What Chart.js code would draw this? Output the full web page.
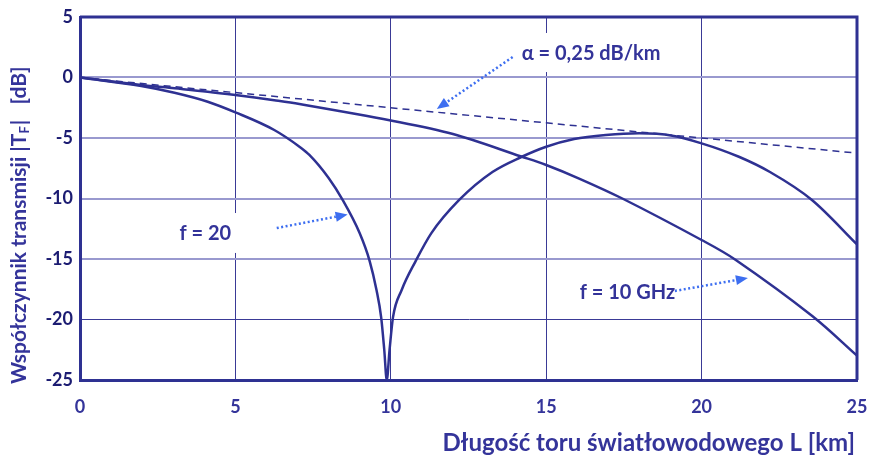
<!DOCTYPE html>
<html>
<head>
<meta charset="utf-8">
<script src="https://cdn.jsdelivr.net/npm/chart.js@4.4.1/dist/chart.umd.min.js"></script>
<style>
    html, body { margin: 0; padding: 0; background: #fff; }
    #wrap { width: 869px; height: 455px; }
</style>
</head>
<body>
<div id="wrap"><canvas id="chart" width="869" height="455"></canvas></div>
<script>
// L [km] i |T_F| [dB]
const lenF10 = [0, 1.97, 3.04, 4.11, 5, 6.25, 7.06, 10, 12, 14.2, 15, 16.06, 17.45, 20, 21.1, 23.56, 25];
const dbF10  = [0, -0.62, -0.89, -1.17, -1.45, -1.88, -2.19, -3.55, -4.67, -6.53, -7.23, -8.35, -10.0, -13.43, -15.08, -19.71, -22.99];

const lenF20 = [0, 1.97, 3.04, 4.11, 5, 6.25, 7.06, 7.38, 8, 8.45, 9.0, 9.32, 9.54, 9.69, 9.79, 9.87,
                9.96, 10.07, 10.35, 10.8, 11.3, 12.2, 13.27, 14.2, 15, 15.9, 16.92, 17.99, 19.06, 20, 21.2, 22.2, 23.55, 25];
const dbF20  = [0, -0.70, -1.26, -2.00, -2.88, -4.34, -5.72, -6.40, -8.31, -10.12, -12.88, -15.17, -17.56, -19.82, -22.52, -25,
                -22.52, -19.82, -17.56, -15.17, -12.88, -10.12, -7.81, -6.57, -5.72, -5.08, -4.75, -4.61, -4.81, -5.44, -6.55, -7.81, -10.12, -13.79];

const lenAlpha = [0, 25];
const dbAlpha  = [0, -6.25];

const xTicks = [0, 5, 10, 15, 20, 25];
const yTicks = [5, 0, -5, -10, -15, -20, -25];

// Opisy i strzałki (w jednostkach osi)
const labelTexts = ['α = 0,25 dB/km', 'f = 20', 'f = 10 GHz'];
const labelPos = [[14.21, 2.0], [3.2, -12.93], [16.08, -17.8]];
const arrowFrom = [[13.92, 1.69], [6.33, -12.44], [19.14, -17.64]];
const arrowTo   = [[11.48, -2.6], [8.61, -11.32], [21.49, -16.57]];
// Białe tło pod opisami (przerywa linie siatki)
const boxFrom = [[13.89, 3.68], [2.89, -11.2]];
const boxTo   = [[19.04, 0.45], [5.3, -14.5]];

const NAVY = '#2e3192';
const FONT = 'Lato, "Open Sans", sans-serif';

function zip(xs, ys) {
    return xs.map((x, i) => ({ x: x, y: ys[i] }));
}

const annotations = {
    id: 'annotations',
    beforeDatasetsDraw(chart) {
        const ctx = chart.ctx;
        const sx = chart.scales.x, sy = chart.scales.y;
        ctx.save();
        ctx.fillStyle = '#fff';
        boxFrom.forEach((b, i) => {
            const x0 = sx.getPixelForValue(b[0]), y0 = sy.getPixelForValue(b[1]);
            const x1 = sx.getPixelForValue(boxTo[i][0]), y1 = sy.getPixelForValue(boxTo[i][1]);
            ctx.fillRect(x0, y0, x1 - x0, y1 - y0);
        });
        ctx.restore();
    },
    afterDatasetsDraw(chart) {
        const ctx = chart.ctx;
        const sx = chart.scales.x, sy = chart.scales.y;
        const a = chart.chartArea;
        ctx.save();

        // top and right frame
        ctx.strokeStyle = NAVY;
        ctx.lineWidth = 3;
        ctx.beginPath();
        ctx.moveTo(a.left, a.top);
        ctx.lineTo(a.right, a.top);
        ctx.lineTo(a.right, a.bottom);
        ctx.stroke();

        // labels
        ctx.fillStyle = '#333399';
        ctx.font = 'bold 20px ' + FONT;
        ctx.textBaseline = 'middle';
        ctx.textAlign = 'left';
        labelTexts.forEach((t, i) => {
            ctx.fillText(t, sx.getPixelForValue(labelPos[i][0]), sy.getPixelForValue(labelPos[i][1]));
        });

        // dotted arrows
        ctx.strokeStyle = '#3d6ef0';
        ctx.fillStyle = '#3d6ef0';
        arrowFrom.forEach((p, i) => {
            const x0 = sx.getPixelForValue(p[0]), y0 = sy.getPixelForValue(p[1]);
            const x1 = sx.getPixelForValue(arrowTo[i][0]), y1 = sy.getPixelForValue(arrowTo[i][1]);
            const ang = Math.atan2(y1 - y0, x1 - x0);
            const head = 12;
            const bx = x1 - head * Math.cos(ang), by = y1 - head * Math.sin(ang);
            ctx.lineWidth = 2.5;
            ctx.setLineDash([2, 2.5]);
            ctx.beginPath();
            ctx.moveTo(x0, y0);
            ctx.lineTo(bx, by);
            ctx.stroke();
            ctx.setLineDash([]);
            ctx.beginPath();
            ctx.moveTo(x1, y1);
            ctx.lineTo(bx + 5 * Math.sin(ang), by - 5 * Math.cos(ang));
            ctx.lineTo(bx - 5 * Math.sin(ang), by + 5 * Math.cos(ang));
            ctx.closePath();
            ctx.fill();
        });

        // axis titles
        ctx.fillStyle = '#34349a';
        ctx.textBaseline = 'alphabetic';
        ctx.font = 'bold 24px ' + FONT;
        ctx.textAlign = 'right';
        ctx.fillText('Długość toru światłowodowego L [km]', 855, 451);

        ctx.font = 'bold 21px ' + FONT;
        ctx.translate(26, 384);
        ctx.rotate(-Math.PI / 2);
        ctx.textAlign = 'left';
        let x = 0;
        const part1 = 'Współczynnik transmisji |T';
        ctx.fillText(part1, x, 0);
        x += ctx.measureText(part1).width;
        ctx.font = 'bold 13px ' + FONT;
        ctx.fillText('F', x, 3);
        x += ctx.measureText('F').width + 1;
        ctx.font = 'bold 21px ' + FONT;
        ctx.fillText('|   [dB]', x, 0);
        ctx.restore();
    }
};

new Chart(document.getElementById('chart'), {
    type: 'line',
    data: {
        datasets: [
            {
                label: 'f = 10 GHz',
                data: zip(lenF10, dbF10),
                borderColor: NAVY,
                borderWidth: 2.5,
                pointRadius: 0,
                tension: 0.35
            },
            {
                label: 'f = 20 GHz',
                data: zip(lenF20, dbF20),
                borderColor: NAVY,
                borderWidth: 2.5,
                pointRadius: 0,
                cubicInterpolationMode: 'monotone'
            },
            {
                label: 'α = 0,25 dB/km',
                data: zip(lenAlpha, dbAlpha),
                borderColor: NAVY,
                borderWidth: 1.5,
                borderDash: [7, 5],
                pointRadius: 0
            }
        ]
    },
    options: {
        responsive: false,
        animation: false,
        devicePixelRatio: 1,
        layout: { padding: { left: 0, top: 17, right: 12, bottom: 0 } },
        plugins: {
            legend: { display: false },
            tooltip: { enabled: false }
        },
        scales: {
            x: {
                type: 'linear',
                min: xTicks[0],
                max: xTicks[xTicks.length - 1],
                afterBuildTicks: (scale) => { scale.ticks = xTicks.map(v => ({ value: v })); },
                afterFit: (scale) => {
                    scale.height = 75;
                    scale.paddingLeft = 0;
                    scale.paddingRight = 0;
                },
                ticks: {
                    color: '#34349a',
                    font: { family: FONT, size: 18, weight: 'bold' },
                    padding: 16,
                    maxRotation: 0
                },
                grid: { color: '#3a3a96', lineWidth: 1, drawTicks: false },
                border: { color: NAVY, width: 3 }
            },
            y: {
                type: 'linear',
                min: yTicks[yTicks.length - 1],
                max: yTicks[0],
                afterBuildTicks: (scale) => { scale.ticks = yTicks.map(v => ({ value: v })); },
                afterFit: (scale) => {
                    scale.width = 80;
                    scale.paddingTop = 0;
                    scale.paddingBottom = 0;
                },
                ticks: {
                    color: '#1c1c72',
                    font: { family: FONT, size: 18, weight: 'bold' },
                    padding: 7
                },
                grid: {
                    color: (c) => (c.tick && c.tick.value === -20) ? '#3a3a96' : '#9999cf',
                    lineWidth: (c) => (c.tick && c.tick.value === -20) ? 1 : 2,
                    drawTicks: false
                },
                border: { color: NAVY, width: 3 }
            }
        }
    },
    plugins: [annotations]
});
</script>
</body>
</html>
